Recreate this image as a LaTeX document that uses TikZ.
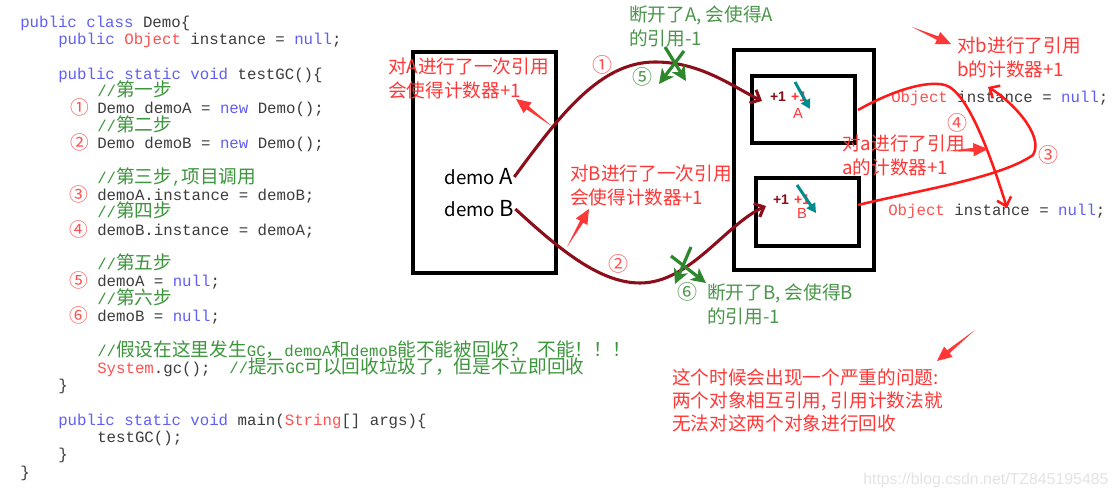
\documentclass[tikz,border=0pt]{standalone}
\usepackage{fontspec}
\setmainfont{Liberation Sans}
\setmonofont{Liberation Mono}
\newfontfamily\cjkfont{Noto Sans CJK SC}
\usetikzlibrary{arrows.meta,calc}

\definecolor{kwblue}{RGB}{95,95,245}
\definecolor{tyred}{RGB}{255,80,80}
\definecolor{cmgreen}{RGB}{60,150,60}
\definecolor{codegray}{RGB}{60,60,60}
\definecolor{circred}{RGB}{255,80,80}
\definecolor{lred}{RGB}{255,55,55}
\definecolor{curvered}{RGB}{255,25,25}
\definecolor{dkred}{RGB}{140,14,26}
\definecolor{lgreen}{RGB}{75,150,75}
\definecolor{xgreen}{RGB}{45,135,45}
\definecolor{tealc}{RGB}{0,140,140}
\definecolor{wmgray}{RGB}{228,228,228}

\newcommand\jkw[1]{\textcolor{kwblue}{#1}}
\newcommand\jty[1]{\textcolor{tyred}{#1}}
\newcommand\jcm[1]{\textcolor{cmgreen}{#1}}
\newcommand\jcn[1]{{\cjkfont\fontsize{14}{14}\selectfont #1}}
\newcommand\tapered[3]{%
  \coordinate (tpH) at ($(#2)!11pt!(#1)$);
  \coordinate (tpS1) at ($(tpH)!1.4pt!90:(#2)$);
  \coordinate (tpS2) at ($(tpH)!1.4pt!-90:(#2)$);
  \coordinate (tpW1) at ($(tpH)!5pt!90:(#2)$);
  \coordinate (tpW2) at ($(tpH)!5pt!-90:(#2)$);
  \fill[#3] (#1) -- (tpS1) -- (tpW1) -- (#2) -- (tpW2) -- (tpS2) -- cycle;}

\begin{document}
\begin{tikzpicture}[x=0.75pt,y=-0.75pt,
  jcode/.style={anchor=base west, inner sep=0pt, text=codegray,
    font=\ttfamily\fontsize{11.8}{14}\selectfont},
  jcirc/.style={anchor=base, inner sep=0pt, text=circred,
    font=\cjkfont\fontsize{14}{14}\selectfont},
  jlbl/.style={anchor=west, inner sep=0pt, align=left,
    font=\cjkfont\fontsize{14}{18}\selectfont},
  jnum/.style={inner sep=0pt, font=\cjkfont\fontsize{15}{16}\selectfont},
  jbox/.style={draw=black, line width=2.3pt},
  dkcurve/.style={draw=dkred, line width=2.3pt,
    -{Straight Barb[length=6pt,width=11pt]}},
  rdcurve/.style={draw=curvered, line width=1.9pt,
    -{Straight Barb[length=6pt,width=11pt]}},
  tealarr/.style={draw=tealc, line width=2.2pt,
    -{Triangle[length=7pt,width=7.5pt]}},
  grx/.style={draw=xgreen, line width=2.4pt,
    -{Stealth[length=11pt,width=11pt,inset=3pt]}},
  plus/.style={inner sep=0pt, font=\bfseries\fontsize{10.5}{12}\selectfont}
]
\useasboundingbox (0,0) rectangle (1118,498);
\fill[white] (0,0) rectangle (1118,498);

% ---------------- code ----------------
\node[jcode] (c0) at (20,27.5) {\jkw{public class} Demo\{};
\node[jcode] (c1) at (58,44.8) {\jkw{public} \jty{Object} instance = \jkw{null};};
\node[jcode] (c3) at (58,79.4) {\jkw{public static void} testGC()\{};
\node[jcode] (c4) at (97,96.7) {\jcm{//\jcn{第一步}}};
\node[jcode] (c5) at (97,114.0) {Demo demoA = \jkw{new} Demo();};
\node[jcode] (c6) at (97,131.3) {\jcm{//\jcn{第二步}}};
\node[jcode] (c7) at (97,148.6) {Demo demoB = \jkw{new} Demo();};
\node[jcode] (c9) at (97,183.2) {\jcm{//\jcn{第三步},\jcn{项目调用}}};
\node[jcode] (c10) at (97,200.5) {demoA.instance = demoB;};
\node[jcode] (c11) at (97,217.8) {\jcm{//\jcn{第四步}}};
\node[jcode] (c12) at (97,235.1) {demoB.instance = demoA;};
\node[jcode] (c14) at (97,269.7) {\jcm{//\jcn{第五步}}};
\node[jcode] (c15) at (97,287.0) {demoA = \jkw{null};};
\node[jcode] (c16) at (97,304.3) {\jcm{//\jcn{第六步}}};
\node[jcode] (c17) at (97,321.6) {demoB = \jkw{null};};
\node[jcode] (c19) at (97,356.2) {\jcm{//\jcn{假设在这里发生}GC\jcn{，}demoA\jcn{和}demoB\jcn{能不能被回收？}~\jcn{不能！！！}}};
\node[jcode] (c20) at (97,373.5) {\jty{System}.gc();~~\jcm{//\jcn{提示}GC\jcn{可以回收垃圾了，但是不立即回收}}};
\node[jcode] (c21) at (58,390.8) {\}};
\node[jcode] (c23) at (58,425.4) {\jkw{public static void} main(\jty{String}[] args)\{};
\node[jcode] (c24) at (97,442.7) {testGC();};
\node[jcode] (c25) at (58,460.0) {\}};
\node[jcode] (c26) at (20,477.3) {\}};

\node[jcirc] (n1) at (80,115.0) {①};
\node[jcirc] (n2) at (80,149.6) {②};
\node[jcirc] (n3) at (79,201.5) {③};
\node[jcirc] (n4) at (79,236.1) {④};
\node[jcirc] (n5) at (79,288.0) {⑤};
\node[jcirc] (n6) at (79,322.6) {⑥};

% ---------------- boxes ----------------
\draw[jbox] (413,52) rectangle (556,273);
\draw[jbox] (734,50) rectangle (874,270);
\draw[jbox] (752,76) rectangle (855,143);
\draw[jbox] (756,178) rectangle (859,246);

\node[anchor=west, inner sep=1pt, font=\cjkfont\fontsize{14}{16}\selectfont] (dA) at (443,177)
  {demo {\fontsize{16.5}{17}\selectfont A}};
\node[anchor=west, inner sep=1pt, font=\cjkfont\fontsize{14}{16}\selectfont] (dB) at (443,209)
  {demo {\fontsize{16.5}{17}\selectfont B}};

% object fields on the right
\node[jcode] (oA) at (891,102.5) {\jty{Object} instance = \jkw{null};};
\node[jcode] (oB) at (888,215.5) {\jty{Object} instance = \jkw{null};};

% +1 marks
\node[plus, text=dkred] (pA1) at (778,97) {+1};
\node[plus, text=lred] (pA2) at (799,97) {+1};
\node[inner sep=0pt, text=lred, font=\fontsize{11}{12}\selectfont] (lA) at (798,113) {A};
\node[plus, text=dkred] (pB1) at (781,200) {+1};
\node[plus, text=lred] (pB2) at (802,200) {+1};
\node[inner sep=0pt, text=lred, font=\fontsize{11}{12}\selectfont] (lB) at (802,213) {B};

% ---------------- labels ----------------
\node[jlbl, text=lred] (tA) at (388,78.5) {对A进行了一次引用\\会使得计数器+1};
\node[jlbl, text=lred] (tB) at (570,185.5) {对B进行了一次引用\\会使得计数器+1};
\node[jlbl, text=lgreen] (gA) at (629,26) {断开了A, 会使得A\\的引用-1};
\node[jlbl, text=lgreen] (gB) at (707,304.5) {断开了B, 会使得B\\的引用-1};
\node[jlbl, text=lred] (tb) at (957,57.5) {对b进行了引用\\b的计数器+1};
\node[jlbl, text=lred] (ta) at (842,155) {对a进行了引用\\a的计数器+1};
\node[jlbl, text=lred, font=\cjkfont\fontsize{14}{17.3}\selectfont] (tq) at (672,400)
  {这个时候会出现一个严重的问题:\\两个对象相互引用, 引用计数法就\\无法对这两个对象进行回收};

\node[jnum, text=circred] (r1) at (602,65) {①};
\node[jnum, text=circred] (r2) at (618,264) {②};
\node[jnum, text=circred] (r3) at (1048,155) {③};
\node[jnum, text=circred] (r4) at (957,123) {④};
\node[jnum, text=lgreen] (r5) at (642,77) {⑤};
\node[jnum, text=lgreen] (r6) at (687,292) {⑥};

\node[anchor=west, inner sep=0pt, text=wmgray, font=\fontsize{11.9}{13}\selectfont] (wm) at (863,480)
  {https://blog.csdn.net/TZ845195485};

% ---------------- curves ----------------
\coordinate (k1) at (655,62);
\coordinate (k1e) at (762,101);
\draw[dkcurve] (dA.east) .. controls (560,115) and (600,62) .. (k1)
  .. controls (700,62) and (730,85) .. (k1e);
\coordinate (k2) at (640,283);
\coordinate (k2e) at (766,206);
\draw[dkcurve] (dB.east) .. controls (560,250) and (600,283) .. (k2)
  .. controls (690,283) and (725,225) .. (k2e);

\coordinate (m3s) at (858,110);
\coordinate (m3) at (945,85);
\coordinate (m3e) at (1007,208);
\draw[rdcurve] (m3s) .. controls (890,92) and (925,80) .. (m3)
  .. controls (970,92) and (995,170) .. (m3e);
\coordinate (m4s) at (858,205);
\coordinate (m4) at (1033,155);
\coordinate (m4e) at (988,87);
\draw[rdcurve] (m4s) .. controls (920,190) and (1000,178) .. (m4)
  .. controls (1045,135) and (1010,100) .. (m4e);

% ---------------- teal arrows ----------------
\coordinate (tA1) at (795,82);
\coordinate (tA2) at (810,109);
\draw[tealarr] (tA1) -- (tA2);
\coordinate (tB1) at (797,185);
\coordinate (tB2) at (816,213);
\draw[tealarr] (tB1) -- (tB2);

% ---------------- green crosses ----------------
\coordinate (xa1) at (665,47);
\coordinate (xa2) at (686,81);
\coordinate (xb1) at (684,51);
\coordinate (xb2) at (659,84);
\draw[grx] (xa1) -- (xa2);
\draw[grx] (xb1) -- (xb2);
\coordinate (xc1) at (691,247);
\coordinate (xc2) at (675,284);
\coordinate (xd1) at (671,256);
\coordinate (xd2) at (706,283);
\draw[grx] (xc1) -- (xc2);
\draw[grx] (xd1) -- (xd2);

% ---------------- callout arrows ----------------
\coordinate (caT) at (553,127);
\coordinate (caH) at (516,99);
\tapered{caT}{caH}{lred}
\coordinate (cbT) at (567,247);
\coordinate (cbH) at (589,209);
\tapered{cbT}{cbH}{lred}
\coordinate (ccT) at (912,27);
\coordinate (ccH) at (951,44);
\tapered{ccT}{ccH}{lred}
\coordinate (cdT) at (947,151);
\coordinate (cdH) at (988,149);
\tapered{cdT}{cdH}{lred}
\coordinate (ceT) at (975,330);
\coordinate (ceH) at (937,361);
\tapered{ceT}{ceH}{lred}
\end{tikzpicture}
\end{document}
